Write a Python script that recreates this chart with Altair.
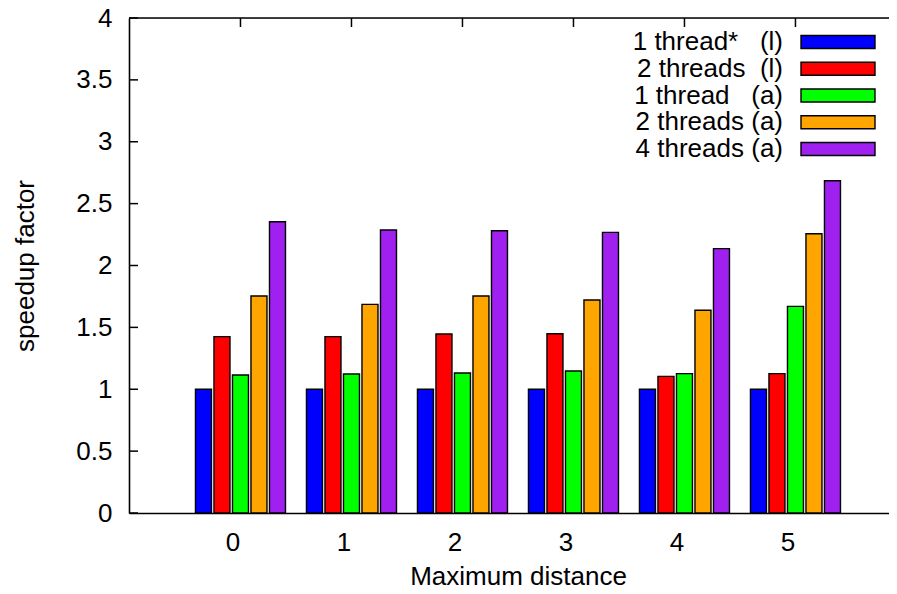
import altair as alt
import pandas as pd

# ---- data ----
distances = ["0", "1", "2", "3", "4", "5"]
series = ["1 thread* (l)", "2 threads (l)", "1 thread (a)", "2 threads (a)", "4 threads (a)"]
legend_labels = [
    "1 thread*\u00a0\u00a0\u00a0(l)",
    "2 threads\u00a0\u00a0(l)",
    "1 thread\u00a0\u00a0\u00a0(a)",
    "2 threads (a)",
    "4 threads (a)",
]
colors = ["#0000ff", "#ff0000", "#00ff00", "#ffa500", "#a020f0"]

one_thread_l = [1.0, 1.0, 1.0, 1.0, 1.0, 1.0]
two_threads_l = [1.425, 1.425, 1.446, 1.449, 1.104, 1.126]
one_thread_a = [1.115, 1.123, 1.131, 1.147, 1.126, 1.670]
two_threads_a = [1.754, 1.686, 1.754, 1.721, 1.638, 2.257]
four_threads_a = [2.354, 2.287, 2.281, 2.268, 2.136, 2.685]

y_ticks = [0, 0.5, 1, 1.5, 2, 2.5, 3, 3.5, 4]

FONT = "Liberation Sans"
FS = 26
W, H = 760, 495

values = [one_thread_l, two_threads_l, one_thread_a, two_threads_a, four_threads_a]
rows = []
for s, vals in zip(series, values):
    for d, v in zip(distances, vals):
        rows.append({"dist": d, "series": s, "speedup": v})
df = pd.DataFrame(rows)
df_ticks = pd.DataFrame({"v": y_ticks})
df_dist = pd.DataFrame({"dist": distances})
df_one = pd.DataFrame({"k": [0]})
df_leg = pd.DataFrame({"series": series, "label": legend_labels})

x_scale = alt.Scale(domain=distances, paddingInner=0.189, paddingOuter=0.518, align=0.578)
y_scale = alt.Scale(domain=[0, 4], nice=False, zero=True)
color_scale = alt.Scale(domain=series, range=colors)

x_axis = alt.Axis(
    title="Maximum distance",
    labelAngle=0,
    ticks=False,
    grid=False,
    domainColor="black",
    domainWidth=1.6,
    labelFont=FONT,
    labelFontSize=FS,
    labelColor="black",
    labelPadding=16,
    labelOffset=-7.5,
    titleFont=FONT,
    titleFontSize=FS,
    titleFontWeight="normal",
    titleColor="black",
    titleX=389,
    titleY=71,
    titleBaseline="alphabetic",
)

y_axis = alt.Axis(
    title="speedup factor",
    values=y_ticks,
    labelExpr="datum.value + ''",
    ticks=False,
    grid=False,
    domainColor="black",
    domainWidth=1.6,
    labelFont=FONT,
    labelFontSize=FS,
    labelColor="black",
    labelPadding=17,
    titleFont=FONT,
    titleFontSize=FS,
    titleFontWeight="normal",
    titleColor="black",
    titleX=-104,
    titleY=H / 2,
    titleBaseline="middle",
)

bars = alt.Chart(df).mark_bar(stroke="black", strokeWidth=1.4).encode(
    x=alt.X("dist:N", sort=distances, scale=x_scale, axis=x_axis),
    xOffset=alt.XOffset(
        "series:N",
        sort=series,
        scale=alt.Scale(domain=series, paddingInner=0.135, paddingOuter=0),
    ),
    y=alt.Y("speedup:Q", scale=y_scale, axis=y_axis),
    color=alt.Color("series:N", sort=series, scale=color_scale, legend=None),
)

left_ticks = alt.Chart(df_ticks).mark_rule(color="black", strokeWidth=1.5).encode(
    y=alt.Y("v:Q", scale=y_scale, axis=y_axis),
    x=alt.value(0),
    x2=alt.value(9),
)

top_ticks = alt.Chart(df_dist).mark_rule(color="black", strokeWidth=1.5).encode(
    x=alt.X("dist:N", sort=distances, scale=x_scale, axis=x_axis),
    y=alt.value(0),
    y2=alt.value(9),
)

top_border = alt.Chart(df_one).mark_rule(color="black", strokeWidth=1.6).encode(
    x=alt.value(0),
    x2=alt.value(W),
    y=alt.value(0),
)

plot = alt.layer(bars, left_ticks, top_ticks, top_border)

leg_y_scale = alt.Scale(domain=series, range=[10.6, 144.4], paddingInner=0.514, paddingOuter=0.257)

leg_rect = alt.Chart(df_leg).mark_rect(stroke="black", strokeWidth=1.4).encode(
    y=alt.Y("series:N", sort=series, scale=leg_y_scale, axis=None),
    x=alt.value(672),
    x2=alt.value(746),
    color=alt.Color("series:N", sort=series, scale=color_scale, legend=None),
)

leg_text = alt.Chart(df_leg).mark_text(
    align="right", baseline="middle", font=FONT, fontSize=FS, color="black"
).encode(
    y=alt.Y("series:N", sort=series, scale=leg_y_scale, axis=None),
    x=alt.value(654),
    text="label:N",
)

legend = alt.layer(leg_rect, leg_text)

chart = (
    alt.layer(plot, legend)
    .resolve_scale(y="independent")
    .properties(
        width=W,
        height=H,
        autosize=alt.AutoSizeParams(type="none"),
        padding={"left": 121, "top": 10, "right": 0, "bottom": 73},
        background="white",
    )
    .configure_view(strokeWidth=0)
    .configure(font=FONT)
)

chart.save("out.html", embed_options={"renderer": "svg", "actions": False})
